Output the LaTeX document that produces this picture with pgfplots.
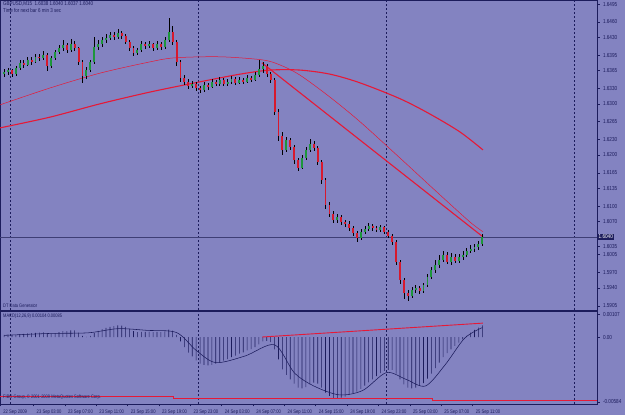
\documentclass[border=0pt]{standalone}
\usepackage{pgfplots}
\pgfplotsset{compat=1.18}
\usepackage{pgfplotstable}
\usepackage{fontspec}
\setmainfont{Liberation Sans}
\newfontfamily\mtfont[FakeStretch=0.8]{Liberation Sans}
\definecolor{bg}{RGB}{131,131,193}
\definecolor{navy}{RGB}{28,28,92}
\definecolor{upc}{RGB}{30,150,60}
\definecolor{dnc}{RGB}{215,25,45}
\definecolor{mared}{RGB}{230,25,55}

\pgfplotstableread{
n o h l c m
-3 1.6358 1.6368 1.6352 1.6362 0.00020
-1 1.6362 1.6371 1.6357 1.6366 0.00022
1 1.6366 1.6369 1.6353 1.6358 0.00018
3 1.6358 1.6374 1.6355 1.6370 0.00020
5 1.6370 1.6385 1.6366 1.6380 0.00025
7 1.6380 1.6386 1.6371 1.6376 0.00028
9 1.6376 1.6391 1.6373 1.6386 0.00032
11 1.6386 1.6392 1.6377 1.6382 0.00034
13 1.6382 1.6398 1.6379 1.6392 0.00038
15 1.6392 1.6397 1.6384 1.6390 0.00040
17 1.6390 1.6403 1.6386 1.6396 0.00042
19 1.6396 1.6400 1.6364 1.6374 0.00030
21 1.6374 1.6394 1.6370 1.6390 0.00030
23 1.6390 1.6406 1.6386 1.6401 0.00036
25 1.6401 1.6415 1.6397 1.6409 0.00044
27 1.6409 1.6424 1.6404 1.6415 0.00052
29 1.6415 1.6420 1.6400 1.6405 0.00054
31 1.6405 1.6427 1.6402 1.6417 0.00060
33 1.6417 1.6422 1.6403 1.6409 0.00060
35 1.6409 1.6412 1.6376 1.6382 0.00040
37 1.6382 1.6386 1.6340 1.6355 0.00010
39 1.6355 1.6372 1.6348 1.6366 0.00002
41 1.6366 1.6386 1.6362 1.6382 0.00010
43 1.6382 1.6430 1.6378 1.6411 0.00035
45 1.6411 1.6424 1.6405 1.6417 0.00055
47 1.6417 1.6431 1.6412 1.6425 0.00070
49 1.6425 1.6436 1.6420 1.6429 0.00082
51 1.6429 1.6441 1.6424 1.6435 0.00092
53 1.6435 1.6440 1.6425 1.6431 0.00098
55 1.6431 1.6446 1.6427 1.6439 0.00104
57 1.6439 1.6443 1.6427 1.6433 0.00102
59 1.6433 1.6436 1.6416 1.6421 0.00092
61 1.6421 1.6424 1.6403 1.6409 0.00074
63 1.6409 1.6413 1.6393 1.6399 0.00054
65 1.6399 1.6410 1.6395 1.6405 0.00044
67 1.6405 1.6422 1.6401 1.6417 0.00046
69 1.6417 1.6421 1.6408 1.6413 0.00046
71 1.6413 1.6423 1.6409 1.6417 0.00048
73 1.6417 1.6420 1.6404 1.6409 0.00044
75 1.6409 1.6422 1.6405 1.6417 0.00046
77 1.6417 1.6421 1.6406 1.6411 0.00044
79 1.6411 1.6431 1.6408 1.6425 0.00050
81 1.6425 1.6468 1.6421 1.6440 0.00066
83 1.6440 1.6452 1.6415 1.6421 0.00058
85 1.6421 1.6424 1.6375 1.6382 0.00020
87 1.6382 1.6386 1.6343 1.6351 -0.00040
89 1.6351 1.6356 1.6337 1.6343 -0.00090
91 1.6343 1.6348 1.6329 1.6335 -0.00140
93 1.6335 1.6344 1.6330 1.6339 -0.00175
95 1.6339 1.6342 1.6325 1.6331 -0.00210
97 1.6331 1.6335 1.6321 1.6327 -0.00240
99 1.6327 1.6342 1.6324 1.6337 -0.00250
101 1.6337 1.6341 1.6328 1.6333 -0.00255
103 1.6333 1.6348 1.6330 1.6343 -0.00250
105 1.6343 1.6347 1.6334 1.6339 -0.00240
107 1.6339 1.6352 1.6335 1.6347 -0.00225
109 1.6347 1.6350 1.6334 1.6339 -0.00212
111 1.6339 1.6348 1.6335 1.6343 -0.00198
113 1.6343 1.6354 1.6339 1.6349 -0.00180
115 1.6349 1.6352 1.6337 1.6341 -0.00168
117 1.6341 1.6352 1.6338 1.6347 -0.00150
119 1.6347 1.6350 1.6338 1.6343 -0.00138
121 1.6343 1.6356 1.6340 1.6351 -0.00120
123 1.6351 1.6355 1.6342 1.6347 -0.00108
125 1.6347 1.6362 1.6344 1.6356 -0.00090
127 1.6356 1.6386 1.6352 1.6368 -0.00065
129 1.6368 1.6382 1.6360 1.6374 -0.00040
131 1.6374 1.6378 1.6352 1.6358 -0.00035
133 1.6358 1.6362 1.6340 1.6347 -0.00045
135 1.6347 1.6350 1.6278 1.6284 -0.00110
137 1.6284 1.6290 1.6228 1.6237 -0.00200
139 1.6237 1.6245 1.6200 1.6210 -0.00290
141 1.6210 1.6236 1.6205 1.6229 -0.00340
143 1.6229 1.6234 1.6210 1.6216 -0.00380
145 1.6216 1.6220 1.6183 1.6190 -0.00420
147 1.6190 1.6194 1.6168 1.6175 -0.00455
149 1.6175 1.6200 1.6172 1.6194 -0.00462
151 1.6194 1.6216 1.6190 1.6210 -0.00450
153 1.6210 1.6232 1.6206 1.6222 -0.00425
155 1.6222 1.6228 1.6208 1.6214 -0.00410
157 1.6214 1.6218 1.6180 1.6186 -0.00420
159 1.6186 1.6190 1.6143 1.6151 -0.00455
161 1.6151 1.6155 1.6095 1.6102 -0.00500
163 1.6102 1.6108 1.6078 1.6085 -0.00530
165 1.6085 1.6090 1.6068 1.6073 -0.00548
167 1.6073 1.6085 1.6068 1.6079 -0.00550
169 1.6079 1.6083 1.6064 1.6069 -0.00545
171 1.6069 1.6074 1.6060 1.6065 -0.00535
173 1.6065 1.6070 1.6052 1.6057 -0.00520
175 1.6057 1.6062 1.6042 1.6048 -0.00505
177 1.6048 1.6052 1.6030 1.6038 -0.00490
179 1.6038 1.6056 1.6034 1.6050 -0.00465
181 1.6050 1.6062 1.6046 1.6056 -0.00438
183 1.6056 1.6068 1.6052 1.6061 -0.00408
185 1.6061 1.6065 1.6052 1.6057 -0.00380
187 1.6057 1.6062 1.6049 1.6054 -0.00352
189 1.6054 1.6064 1.6050 1.6059 -0.00325
191 1.6059 1.6062 1.6046 1.6050 -0.00305
193 1.6050 1.6054 1.6038 1.6042 -0.00295
195 1.6042 1.6046 1.6024 1.6030 -0.00295
197 1.6030 1.6033 1.5984 1.5991 -0.00330
199 1.5991 1.5995 1.5948 1.5956 -0.00380
201 1.5956 1.5960 1.5918 1.5930 -0.00425
203 1.5930 1.5936 1.5914 1.5925 -0.00455
205 1.5925 1.5941 1.5920 1.5936 -0.00462
207 1.5936 1.5946 1.5930 1.5940 -0.00455
209 1.5940 1.5944 1.5928 1.5934 -0.00440
211 1.5934 1.5950 1.5930 1.5946 -0.00415
213 1.5946 1.5968 1.5942 1.5962 -0.00375
215 1.5962 1.5982 1.5958 1.5975 -0.00330
217 1.5975 1.5995 1.5970 1.5985 -0.00280
219 1.5985 1.6004 1.5980 1.5995 -0.00230
221 1.5995 1.6012 1.5990 1.6005 -0.00180
223 1.6005 1.6010 1.5986 1.5991 -0.00145
225 1.5991 1.6008 1.5986 1.6001 -0.00110
227 1.6001 1.6006 1.5988 1.5993 -0.00080
229 1.5993 1.6007 1.5989 1.6001 -0.00050
231 1.6001 1.6012 1.5995 1.6005 -0.00020
233 1.6005 1.6019 1.6000 1.6013 0.00010
235 1.6013 1.6024 1.6008 1.6016 0.00040
237 1.6016 1.6026 1.6010 1.6020 0.00065
239 1.6020 1.6032 1.6015 1.6026 0.00085
241 1.6026 1.6046 1.6022 1.6040 0.00104
}\candles

\pgfplotsset{mtaxis/.style={
  scale only axis, width=597pt,
  xmin=-5.1, xmax=299.5,
  axis line style={navy, line width=0.7pt},
  tick style={navy, line width=0.5pt},
  major tick length=2.5pt,
  tick align=outside,
  ytick pos=right, yticklabel pos=right,
  scaled y ticks=false,
  clip mode=individual,
  extra x ticks={0,96,192,288},
  extra x tick labels={},
  extra x tick style={grid=major, major tick length=0pt,
    major grid style={navy, line width=0.5pt, dash pattern=on 2pt off 2pt}},
  ticklabel style={font=\mtfont\fontsize{5.2}{6}\selectfont, text=navy},
  yticklabel style={font=\mtfont\fontsize{5.8}{6}\selectfont},
}}

\begin{document}
\begin{tikzpicture}[font=\mtfont\fontsize{5}{6}\selectfont, text=navy]
\fill[bg] (0,0) rectangle (625pt,415pt);
\useasboundingbox (0,0) rectangle (625pt,415pt);

% ---------- price panel ----------
\begin{axis}[mtaxis,
  at={(0pt,415pt)}, anchor=north west, height=310pt,
  ymin=1.5897, ymax=1.6503,
  xtick=\empty,
  ytick={1.6495,1.6460,1.6430,1.6395,1.6365,1.6330,1.6300,1.6265,1.6230,1.6200,1.6165,1.6135,1.6100,1.6070,1.6022,1.6005,1.5970,1.5940,1.5905},
  yticklabels={1.6495,1.6460,1.6430,1.6395,1.6365,1.6330,1.6300,1.6265,1.6230,1.6200,1.6165,1.6135,1.6100,1.6070,1.6035,1.6005,1.5970,1.5940,1.5905},
]
% current price line
\addplot[navy!85, line width=0.5pt] coordinates {(-5.1,1.6040) (299.5,1.6040)};
% slow MA
\addplot[mared, line width=1.1pt, smooth] coordinates {
(-5.1,1.6253) (20.4,1.6274) (45.9,1.6300) (71.4,1.6323) (96.9,1.6343) (117.3,1.6358)
(132.7,1.6366) (148,1.6366) (163.3,1.6358) (178.6,1.6341) (199,1.6310) (214.3,1.6280)
(229.6,1.6245) (241.3,1.6210)};
% fast MA
\addplot[mared, line width=0.5pt, smooth] coordinates {
(-5.1,1.6298) (20.4,1.6331) (45.9,1.6360) (71.4,1.6382) (84.2,1.6390) (107.1,1.6392)
(128.6,1.6386) (137.8,1.6376) (148,1.6356) (163.3,1.6313) (178.6,1.6265) (199,1.6194)
(219.4,1.6122) (234.7,1.6069) (241.3,1.6050)};
% trend line
\addplot[mared, line width=1.1pt] coordinates {(128.6,1.6380) (241.3,1.6040)};
% wicks
\addplot[draw=none, mark=none,
  error bars/.cd, y dir=both, y explicit, error mark=none,
  error bar style={draw=black, line width=0.45pt, solid}]
  table[x=n, y expr={(\thisrow{h}+\thisrow{l})/2}, y error expr={(\thisrow{h}-\thisrow{l})/2}] {\candles};
% up bodies
\addplot[draw=none, mark=none,
  restrict expr to domain={\thisrow{c}-\thisrow{o}}{0:1},
  error bars/.cd, y dir=both, y explicit, error mark=none,
  error bar style={draw=upc, line width=1.9pt, solid}]
  table[x=n, y expr={(\thisrow{o}+\thisrow{c})/2}, y error expr={abs(\thisrow{c}-\thisrow{o})/2}] {\candles};
% down bodies
\addplot[draw=none, mark=none,
  restrict expr to domain={\thisrow{o}-\thisrow{c}}{0.00001:1},
  error bars/.cd, y dir=both, y explicit, error mark=none,
  error bar style={draw=dnc, line width=1.9pt, solid}]
  table[x=n, y expr={(\thisrow{o}+\thisrow{c})/2}, y error expr={abs(\thisrow{c}-\thisrow{o})/2}] {\candles};
\node[fill=navy, text=white, inner sep=0.9pt, anchor=west, font=\mtfont\fontsize{5.8}{6}\selectfont]
  at (axis cs:299.5,1.6040) [xshift=0.6pt] {1.6040};
\node[anchor=north west, inner sep=0, font=\mtfont\fontsize{5.6}{6}\selectfont]
  at (rel axis cs:0,1) [xshift=3pt, yshift=-1.8pt] {GBPUSD,M15\ \ 1.6038 1.6040 1.6037 1.6040};
\node[anchor=north west, inner sep=0, font=\mtfont\fontsize{5.6}{6}\selectfont]
  at (rel axis cs:0,1) [xshift=3pt, yshift=-8pt] {Time for next bar 6 min 3 sec};
\node[anchor=south west, inner sep=0]
  at (rel axis cs:0,0) [xshift=3pt, yshift=2pt] {DT Data Generator};
\end{axis}

% ---------- MACD panel ----------
\begin{axis}[mtaxis,
  at={(0pt,104pt)}, anchor=north west, height=93pt,
  ymin=-0.00602, ymax=0.00234,
  xtick={-5,12,28,44,60,76,92,108,124,140,156,172,188,204,220,236},
  xticklabels={22 Sep 2009,23 Sep 03:00,23 Sep 07:00,23 Sep 11:00,23 Sep 15:00,23 Sep 19:00,23 Sep 23:00,24 Sep 03:00,24 Sep 07:00,24 Sep 11:00,24 Sep 15:00,24 Sep 19:00,24 Sep 23:00,25 Sep 03:00,25 Sep 07:00,25 Sep 11:00},
  xtick pos=bottom,
  xticklabel style={anchor=north west, xshift=-0.3pt},
  ytick={0.00205,0,-0.00584},
  yticklabels={0.00107,0.00,-0.00584},
]
\addplot[ybar, bar width=0.6pt, fill=navy, draw=none] table[x=n, y=m] {\candles};
\addplot[navy, line width=0.55pt, smooth] coordinates {
(-3,0.00015) (20,0.00032) (40,0.00038) (55,0.00075) (70,0.00060) (85,0.00040)
(95,-0.00120) (105,-0.00230) (120,-0.00170) (135,-0.00070) (145,-0.00320)
(155,-0.00440) (168,-0.00520) (180,-0.00480) (192,-0.00320) (202,-0.00380)
(212,-0.00440) (222,-0.00250) (232,-0.00010) (241,0.00085)};
\addplot[mared, line width=0.9pt] coordinates {(128.6,0.00000) (241.3,0.00125)};
\addplot[mared, line width=1pt] coordinates {
(-5.1,-0.00536) (83.2,-0.00536) (83.2,-0.00550) (215.8,-0.00550) (215.8,-0.00575) (299.5,-0.00575)};
\node[anchor=north west, inner sep=0]
  at (rel axis cs:0,1) [xshift=3pt, yshift=-3pt] {MACD(12,26,9) 0.00104 0.00085};
\node[anchor=south west, inner sep=0]
  at (rel axis cs:0,0) [xshift=3pt, yshift=4pt] {FIBO Group, © 2001-2009 MetaQuotes Software Corp.};
\end{axis}
\end{tikzpicture}
\end{document}
